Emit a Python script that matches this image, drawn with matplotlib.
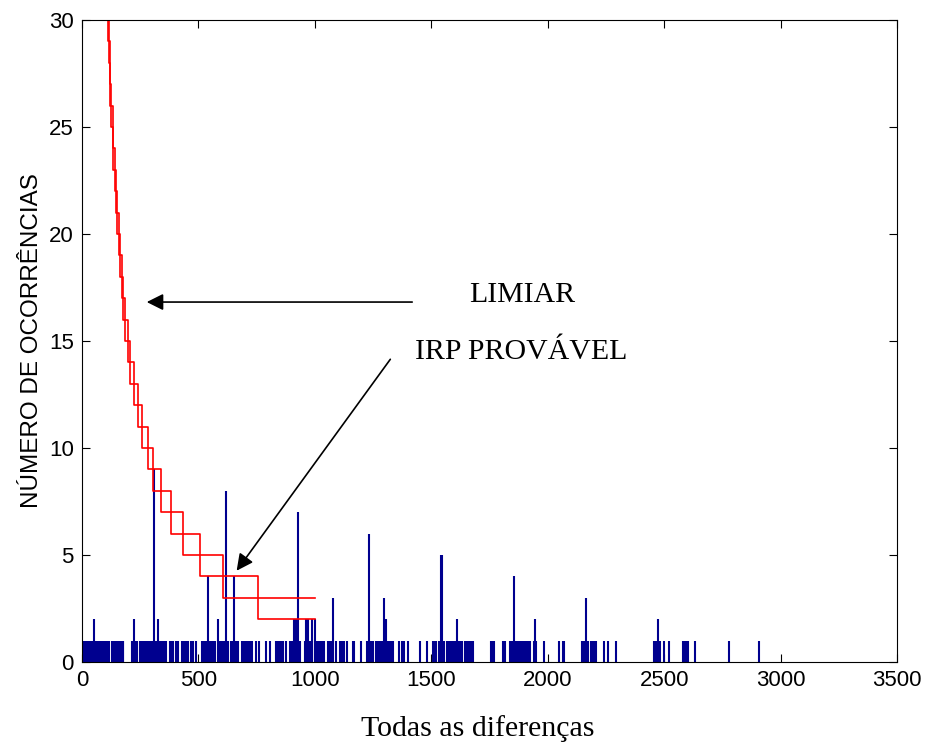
import matplotlib
matplotlib.use('Agg')
import matplotlib.pyplot as plt

# histograma: diferencas com 1 ocorrencia
uma_ocorrencia = [
    7, 12, 17, 27, 31, 37, 41, 46, 55, 60, 64, 69, 75, 80, 85, 95, 104, 109, 114,
    127, 132, 136, 144, 149, 154, 159, 164, 169, 174, 178, 216, 221, 226, 231, 235,
    247, 252, 257, 262, 267, 272, 277, 282, 287, 292, 297, 302, 307, 312, 317, 322,
    327, 332, 337, 342, 347, 352, 357, 362, 376, 381, 386, 391, 402, 407, 413, 430,
    436, 445, 450, 456, 466, 471, 477, 490, 516, 521, 526, 531, 536, 546, 551, 556,
    561, 566, 571, 588, 593, 598, 603, 608, 613, 623, 628, 638, 643, 649, 660, 665,
    671, 685, 690, 695, 700, 710, 715, 720, 725, 730, 746, 760, 789, 807, 835, 841,
    851, 856, 861, 875, 894, 899, 904, 914, 924, 929, 934, 959, 964, 969, 974, 978,
    989, 1007, 1012, 1017, 1021, 1030, 1035, 1040, 1055, 1066, 1071, 1090, 1107,
    1113, 1118, 1125, 1140, 1164, 1170, 1200, 1223, 1228, 1238, 1243, 1248, 1264,
    1269, 1274, 1279, 1284, 1289, 1294, 1309, 1314, 1319, 1324, 1329, 1334, 1361,
    1375, 1381, 1402, 1452, 1483, 1507, 1512, 1518, 1522, 1531, 1536, 1541, 1551,
    1556, 1567, 1572, 1577, 1582, 1587, 1592, 1597, 1601, 1615, 1620, 1625, 1630,
    1646, 1651, 1656, 1661, 1666, 1671, 1676, 1680, 1757, 1763, 1768, 1806, 1812,
    1818, 1839, 1844, 1849, 1859, 1864, 1869, 1874, 1879, 1884, 1889, 1894, 1902,
    1907, 1912, 1917, 1922, 1939, 1951, 1986, 2049, 2066, 2072, 2147, 2152, 2157,
    2167, 2172, 2184, 2189, 2194, 2199, 2204, 2209, 2241, 2260, 2292, 2455, 2460,
    2465, 2476, 2481, 2501, 2519, 2581, 2586, 2591, 2596, 2601, 2633, 2779, 2908,
]

# diferencas com mais de uma ocorrencia
dif_altas = [52, 223, 310, 328, 541, 582, 618, 653, 910, 919, 927, 961, 972, 986, 1000,
             1078, 1232, 1298, 1305, 1543, 1548, 1612, 1855, 1945, 2163, 2472]
ocorr_altas = [2, 2, 9, 2, 4, 2, 8, 4, 2, 2, 7, 2, 2, 2, 2,
               3, 6, 3, 2, 5, 5, 2, 4, 2, 3, 2]

# curvas de limiar (degraus)
limiar_par_x = [95, 108, 115, 122, 131, 140, 150, 163, 178, 198, 223, 256, 306, 381, 507, 757, 1000]
limiar_par_y = [32, 30, 28, 26, 24, 22, 20, 18, 16, 14, 12, 10, 8, 6, 4, 2, 2]
limiar_impar_x = [97, 111, 118, 126, 135, 145, 157, 170, 185, 206, 239, 282, 338, 432, 604, 1000]
limiar_impar_y = [31, 29, 27, 25, 23, 21, 19, 17, 15, 13, 11, 9, 7, 5, 3, 3]

plt.rcParams['font.family'] = ['Liberation Sans', 'DejaVu Sans']

fig = plt.figure(figsize=(9.27, 7.46), dpi=100)
ax = fig.add_axes([0.0885, 0.1126, 0.8791, 0.8606])

azul = '#00008F'
ax.vlines(uma_ocorrencia, 0, 1, color=azul, linewidth=1.5)
ax.vlines(dif_altas, 0, ocorr_altas, color=azul, linewidth=1.5)

ax.plot(limiar_par_x, limiar_par_y, drawstyle='steps-post', color='red', linewidth=1.2)
ax.plot(limiar_impar_x, limiar_impar_y, drawstyle='steps-post', color='red', linewidth=1.2)

ax.set_xlim(0, 3500)
ax.set_ylim(0, 30)
ax.set_xticks(range(0, 3501, 500))
ax.set_yticks(range(0, 31, 5))
ax.tick_params(direction='in', length=6, width=0.8, top=True, right=True,
               labelsize=16, pad=6)
for s in ax.spines.values():
    s.set_linewidth(0.8)

ax.set_ylabel('NÚMERO DE OCORRÊNCIAS', fontsize=17.5, labelpad=4)
ax.set_xlabel('Todas as diferenças', family='Liberation Serif', fontsize=21.5)
ax.xaxis.set_label_coords(0.486, -0.083)

# anotacoes
ax.annotate('', xy=(266, 16.82), xytext=(1430, 16.82),
            arrowprops=dict(arrowstyle='-|>', color='black', lw=1.2, mutation_scale=25))
ax.text(1890, 17.15, 'LIMIAR', family='Liberation Serif', fontsize=21.5,
        ha='center', va='center')
ax.annotate('', xy=(657, 4.16), xytext=(1331, 14.25),
            arrowprops=dict(arrowstyle='-|>', color='black', lw=1.2, mutation_scale=25))
ax.text(1887, 14.49, 'IRP PROVÁVEL', family='Liberation Serif', fontsize=21.5,
        ha='center', va='center')

plt.savefig('out.png', dpi=100)
